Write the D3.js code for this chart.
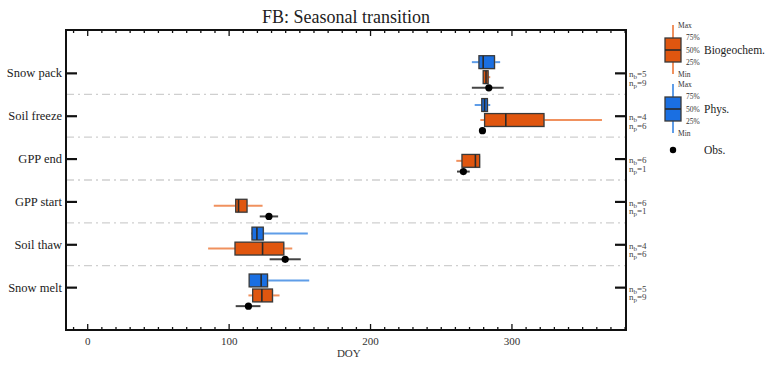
<!DOCTYPE html>
<html><head><meta charset="utf-8">
<script src="https://cdn.jsdelivr.net/npm/d3@7"></script>
<style>
body{margin:0;background:#fff;}
svg, svg text{font-family:"Liberation Serif","Times New Roman",Tinos,"DejaVu Serif",serif !important;}
</style></head>
<body><svg id="chart" width="767" height="365"></svg>
<script>
// ---- data ----
const categories = ["Snow pack","Soil freeze","GPP end","GPP start","Soil thaw","Snow melt"];
// Phys. (blue) : [min, q1, median, q3, max]; null = no models
const physStats = [
  [272, 277, 280, 288, 292],
  [274, 279, 281, 283, 285],
  null,
  null,
  [116, 116.5, 120, 124.5, 156],
  [114.5, 114.5, 123, 127.5, 157]
];
// Biogeochem. (orange)
const bgcStats = [
  [280, 280, 282, 283.5, 285],
  [278, 281, 296, 323, 364],
  [261, 265, 274.5, 277.5, 277.5],
  [89.5, 105, 107, 113, 124],
  [85.5, 104.5, 124, 139, 145],
  [114, 117, 123.5, 131, 136]
];
// Observations: [low, value, high]
const obsStats = [
  [272, 284, 294.5],
  [279.5, 279.5, 279.5],
  [261.5, 266, 270.5],
  [122, 128.5, 135],
  [129, 140, 151],
  [105, 114, 122.5]
];
const nBgc = [5, 4, 6, 6, 4, 5];
const nPhys = [9, 6, 1, 1, 6, 9];
const xTicks = [0, 100, 200, 300];
const xDomain = [-15, 381];

// ---- layout ----
const FONT = "Liberation Serif, Times New Roman, serif";
const L = 66, R = 626, T = 30, B = 330;
const rowShift = [0, 0, -2, 0, 0, 4]; // small vertical nudges of each group (px)
const orange = "#e0560f", orangeW = "#f0915e";
const blue = "#1a6fe2", blueW = "#5f9de8";
const svg = d3.select("#chart").attr("font-family", FONT);
const x = d3.scaleLinear().domain(xDomain).range([L, R]);
const y = d3.scaleLinear().domain([0, categories.length + 1]).range([T, B]);
const unit = y(1) - y(0);
const boxH = 0.3 * unit;

svg.append("text").attr("x", (L + R) / 2).attr("y", 23).attr("text-anchor", "middle")
  .attr("font-size", 18).attr("fill", "#222").text("FB: Seasonal transition");

// separators
const g = svg.append("g");
d3.range(1, categories.length).forEach(i => {
  g.append("line").attr("x1", L).attr("x2", R).attr("y1", y(i + 0.5)).attr("y2", y(i + 0.5))
    .attr("stroke", "#cfcfcf").attr("stroke-width", 1.3).attr("stroke-dasharray", "8,4,2,4");
});

function drawBox(stats, yc, fill, wcol) {
  if (!stats) return;
  const [mn, q1, md, q3, mx] = stats;
  g.append("line").attr("x1", x(mn)).attr("x2", x(mx)).attr("y1", yc).attr("y2", yc)
    .attr("stroke", wcol).attr("stroke-width", 2);
  g.append("rect").attr("x", x(q1) + 1).attr("y", yc - boxH / 2 + 1)
    .attr("width", x(q3) - x(q1)).attr("height", boxH).attr("fill", "#bbb").attr("opacity", 0.5);
  g.append("rect").attr("x", x(q1)).attr("y", yc - boxH / 2)
    .attr("width", x(q3) - x(q1)).attr("height", boxH)
    .attr("fill", fill).attr("stroke", "#3a3a3a").attr("stroke-width", 1.3);
  g.append("line").attr("x1", x(md)).attr("x2", x(md)).attr("y1", yc - boxH / 2).attr("y2", yc + boxH / 2)
    .attr("stroke", "#2a2a2a").attr("stroke-width", 1.6);
}

categories.forEach((c, i) => {
  const yc = y(i + 1);
  const yg = yc + rowShift[i];
  drawBox(physStats[i], yg - 0.25 * unit, blue, blueW);
  drawBox(bgcStats[i], yg + 0.1 * unit, orange, orangeW);
  const o = obsStats[i], yo = yg + 0.35 * unit;
  g.append("line").attr("x1", x(o[0])).attr("x2", x(o[2])).attr("y1", yo).attr("y2", yo)
    .attr("stroke", "#444").attr("stroke-width", 2);
  g.append("circle").attr("cx", x(o[1])).attr("cy", yo).attr("r", 3.6).attr("fill", "#000");
  // n labels
  const t = svg.append("text").attr("x", R + 3).attr("y", yc + 4.5).attr("font-size", 9).attr("fill", "#444");
  t.append("tspan").text("n");
  t.append("tspan").attr("font-size", 7).attr("dy", 2).text("b");
  t.append("tspan").attr("dy", -2).text("=" + nBgc[i]);
  const t2 = svg.append("text").attr("x", R + 3).attr("y", yc + 13).attr("font-size", 9).attr("fill", "#444");
  t2.append("tspan").text("n");
  t2.append("tspan").attr("font-size", 7).attr("dy", 2).text("p");
  t2.append("tspan").attr("dy", -2).text("=" + nPhys[i]);
});

// axes
const minor = d3.range(-10, 381, 10).filter(v => !xTicks.includes(v));
function styleAxis(sel) {
  sel.attr("font-family", FONT);
  sel.select(".domain").remove();
  sel.selectAll("line").attr("stroke", "#111").attr("stroke-width", 1.3);
}
svg.append("g").attr("transform", `translate(0,${B})`)
  .call(d3.axisBottom(x).tickValues(xTicks).tickSize(-6).tickPadding(7).tickFormat(d3.format("d")))
  .call(styleAxis).call(s => s.selectAll("text").attr("font-size", 11).attr("fill", "#333"));
svg.append("g").attr("transform", `translate(0,${B})`)
  .call(d3.axisBottom(x).tickValues(minor).tickSize(-3).tickFormat(""))
  .call(styleAxis);
svg.append("g").attr("transform", `translate(0,${T})`)
  .call(d3.axisTop(x).tickValues(xTicks).tickSize(-6).tickFormat(""))
  .call(styleAxis);
svg.append("g").attr("transform", `translate(0,${T})`)
  .call(d3.axisTop(x).tickValues(minor).tickSize(-3).tickFormat(""))
  .call(styleAxis);
const yIdx = categories.map((c, i) => i + 1);
svg.append("g").attr("transform", `translate(${L},0)`)
  .call(d3.axisLeft(y).tickValues(yIdx).tickSize(-11).tickPadding(4).tickFormat(d => categories[d - 1]))
  .call(styleAxis)
  .call(s => s.selectAll("line").attr("stroke-width", 2.2))
  .call(s => s.selectAll("text").attr("font-size", 12.5).attr("fill", "#222"));
svg.append("g").attr("transform", `translate(${R},0)`)
  .call(d3.axisRight(y).tickValues(yIdx).tickSize(-11).tickFormat(""))
  .call(styleAxis)
  .call(s => s.selectAll("line").attr("stroke-width", 2.2));
svg.append("rect").attr("x", L).attr("y", T).attr("width", R - L).attr("height", B - T)
  .attr("fill", "none").attr("stroke", "#111").attr("stroke-width", 2);
svg.append("text").attr("x", x(185)).attr("y", 357).attr("text-anchor", "middle")
  .attr("font-size", 11).attr("fill", "#333").text("DOY");

// legend
function legendBox(cy, fill, wcol, label) {
  const lx = 673, bw = 16, bh = 24;
  const lg = svg.append("g");
  lg.append("line").attr("x1", lx).attr("x2", lx).attr("y1", cy - 25).attr("y2", cy + 24)
    .attr("stroke", wcol).attr("stroke-width", 2);
  lg.append("rect").attr("x", lx - bw / 2).attr("y", cy - bh / 2).attr("width", bw).attr("height", bh)
    .attr("fill", fill).attr("stroke", "#3a3a3a").attr("stroke-width", 1.3);
  lg.append("line").attr("x1", lx - bw / 2).attr("x2", lx + bw / 2).attr("y1", cy).attr("y2", cy)
    .attr("stroke", "#2a2a2a").attr("stroke-width", 1.6);
  const sm = [["Max", lx + 5, cy - 25], ["75%", lx + 13, cy - 13], ["50%", lx + 13, cy], ["25%", lx + 13, cy + 12], ["Min", lx + 5, cy + 24]];
  sm.forEach(([t, tx, ty]) => lg.append("text").attr("x", tx).attr("y", ty + 2.5)
    .attr("font-size", 7.5).attr("fill", "#333").text(t));
  lg.append("text").attr("x", 704).attr("y", cy + 4).attr("font-size", 11.5).attr("fill", "#222").text(label);
}
legendBox(50, orange, orangeW, "Biogeochem.");
legendBox(109, blue, blueW, "Phys.");
svg.append("circle").attr("cx", 673).attr("cy", 150).attr("r", 3.2).attr("fill", "#000");
svg.append("text").attr("x", 704).attr("y", 154).attr("font-size", 11.5).attr("fill", "#222").text("Obs.");
</script></body></html>
